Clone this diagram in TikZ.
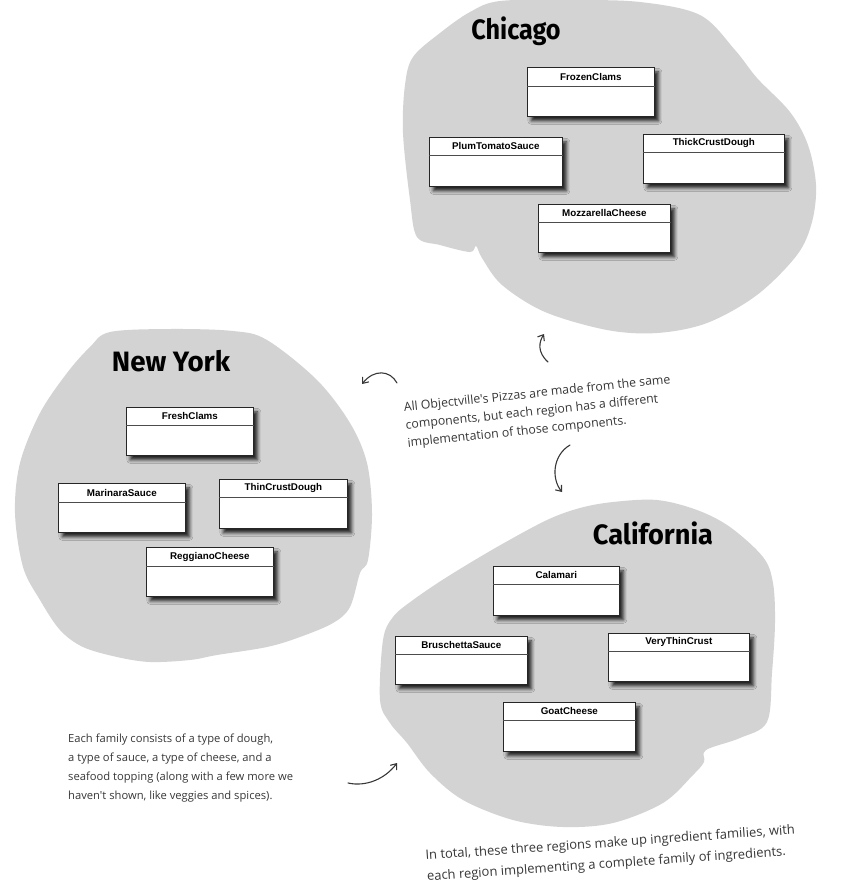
\documentclass[tikz,border=0pt]{standalone}
\usepackage{fontspec}
\setmainfont{Liberation Sans}
\newfontfamily\titlefont{Fira Sans}
\newfontfamily\handfont{Open Sans}
\usetikzlibrary{arrows.meta,shadows.blur}
\definecolor{blobgray}{RGB}{211,211,211}
\definecolor{inkgray}{RGB}{55,55,55}
\newcommand\umlcls[7]{%
  \node[cls, minimum width=#4pt, minimum height=#5pt] (#1) at (#2,#3) {};
  \draw[divline] ([yshift=-#6pt]#1.north west) -- ([yshift=-#6pt]#1.north east);
  \node[clsname] at ([yshift=-#6pt/2]#1.north) {#7};
}
\begin{document}
\begin{tikzpicture}[x=1pt,y=-1pt,
  blob/.style={fill=blobgray},
  cls/.style={rectangle, draw=black!85, line width=0.7pt, fill=white, inner sep=0pt,
    anchor=north west,
    blur shadow={shadow xshift=4pt, shadow yshift=-4.5pt, shadow blur radius=3.5pt, shadow opacity=85}},
  divline/.style={draw=black!70, line width=0.7pt},
  clsname/.style={font=\bfseries\fontsize{9.8}{11}\selectfont, inner sep=0pt},
  title/.style={font=\titlefont\bfseries\fontsize{28}{30}\selectfont, inner sep=0pt},
  note/.style={text=inkgray, align=left, inner sep=0pt},
  handarrow/.style={draw=inkgray, line width=1.1pt, line cap=round,
    -{Straight Barb[length=5pt,width=8pt,line width=1.1pt]}}
]
\useasboundingbox (0,0) rectangle (854,895);

% ---------- blobs ----------
\fill[blob] plot[smooth cycle, tension=0.55] coordinates {
  (500,1) (570,0) (640,2) (700,15) (735,50) (757,78) (790,112) (808,145) (816,185)
  (812,222) (797,255) (757,295) (707,323) (657,333) (607,330) (545,312)
  (502,285) (482,258) (476,246) (470,252) (440,245) (417,237) (410,200)
  (403,133) (405,85) (413,57) (440,33) (470,12)};

\fill[blob] plot[smooth cycle, tension=0.55] coordinates {
  (110,332) (170,329) (233,331) (267,340) (317,380) (350,423) (367,463)
  (372,513) (368,560) (360,573) (350,607) (333,623) (300,637) (267,647)
  (217,655) (190,660) (150,662) (117,657) (83,647) (60,630) (40,600)
  (23,567) (15,513) (20,463) (40,413) (67,373) (90,347)};

\fill[blob] plot[smooth cycle, tension=0.55] coordinates {
  (580,508) (613,502) (657,500) (697,510) (730,527) (763,557) (773,583)
  (775,623) (772,673) (767,722) (740,738) (706,750) (704,762) (693,775)
  (663,803) (613,823) (563,827) (513,820) (463,800) (430,773) (407,743)
  (390,723) (380,700) (383,640) (393,617) (413,600) (447,577) (497,547) (547,520)};

% ---------- titles ----------
\node[title, xscale=0.9] (tchicago) at (516,31) {Chicago};
\node[title, xscale=0.99] (tny) at (171,361) {New York};
\node[title, xscale=0.97] (tcal) at (653,533) {California};

% ---------- Chicago classes ----------
\umlcls{frozen}{527}{67}{127}{49}{19}{FrozenClams}
\umlcls{plum}{429}{137}{133}{49}{18}{PlumTomatoSauce}
\umlcls{thick}{643}{134}{141}{49}{18}{ThickCrustDough}
\umlcls{mozz}{538}{204}{132}{48}{18}{MozzarellaCheese}

% ---------- New York classes ----------
\umlcls{fresh}{126}{407}{127}{48}{18}{FreshClams}
\umlcls{marinara}{58}{483}{127}{49}{19}{MarinaraSauce}
\umlcls{thin}{219}{479}{128}{49}{18}{ThinCrustDough}
\umlcls{reggiano}{146}{547}{127}{49}{19}{ReggianoCheese}

% ---------- California classes ----------
\umlcls{calamari}{493}{566}{126}{49}{18}{Calamari}
\umlcls{bruschetta}{395}{636}{132}{48}{18}{BruschettaSauce}
\umlcls{verythin}{608}{633}{141}{48}{18}{VeryThinCrust}
\umlcls{goat}{503}{702}{132}{49}{18}{GoatCheese}

% ---------- notes ----------
\node[note, rotate=6, font=\handfont\fontsize{12.3}{18}\selectfont] (n1) at (539,412) {All Objectville's Pizzas are made from the same\\components, but each region has a different\\implementation of those components.};

\node[note, anchor=north west, font=\handfont\fontsize{11.2}{19}\selectfont] (n2) at (68,734) {Each family consists of a type of dough,\\a type of sauce, a type of cheese, and a\\seafood topping (along with a few more we\\haven't shown, like veggies and spices).};

\node[note, rotate=4, font=\handfont\fontsize{13}{21}\selectfont] (n3) at (611,854) {In total, these three regions make up ingredient families, with\\each region implementing a complete family of ingredients.};

% ---------- arrows ----------
\coordinate (a1s) at (548,362); \coordinate (a1e) at (544,334);
\draw[handarrow] (a1s) .. controls (537,352) and (539,342) .. (a1e);
\coordinate (a2s) at (397,383); \coordinate (a2e) at (362,384);
\draw[handarrow] (a2s) .. controls (390,370) and (374,369) .. (a2e);
\coordinate (a3s) at (570,445); \coordinate (a3e) at (562,492);
\draw[handarrow] (a3s) .. controls (553,455) and (551,478) .. (a3e);
\coordinate (a4s) at (348,783); \coordinate (a4e) at (397,763);
\draw[handarrow] (a4s) .. controls (366,787) and (385,779) .. (a4e);
\end{tikzpicture}
\end{document}
